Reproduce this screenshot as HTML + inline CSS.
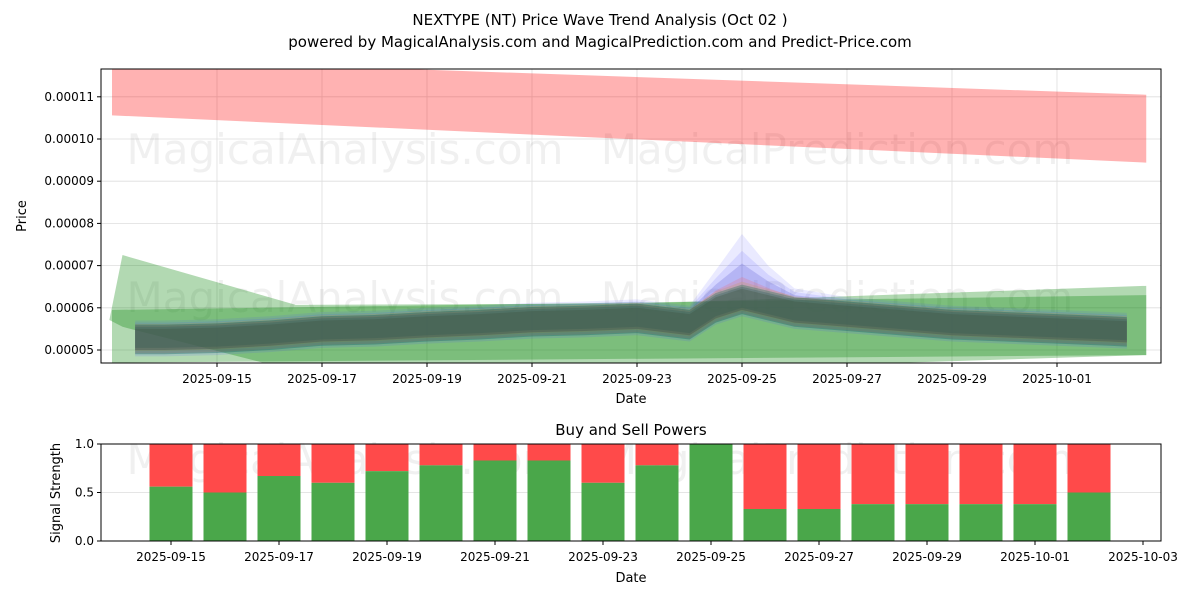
<!DOCTYPE html>
<html><head><meta charset="utf-8"><style>
body{margin:0;background:#fff;font-family:"Liberation Sans","DejaVu Sans",sans-serif;}
svg text{font-family:"DejaVu Sans","Liberation Sans",sans-serif;}
</style></head><body>
<svg id="c" width="1200" height="600" viewBox="0 0 1200 600" xmlns="http://www.w3.org/2000/svg">
<text x="600" y="25" font-size="15" text-anchor="middle">NEXTYPE (NT) Price Wave Trend Analysis (Oct 02 )</text>
<text x="600" y="47" font-size="15" text-anchor="middle">powered by MagicalAnalysis.com and MagicalPrediction.com and Predict-Price.com</text>
<defs><clipPath id="tc"><rect x="101" y="69" width="1060" height="294"/></clipPath></defs>
<g id="topg"></g>
<g id="botg"></g>
</svg>
<script>
// ---- data ----
const days = [-1.56,-1,0,1,2,3,4,5,6,7,8,9,9.5,10,10.5,11,12,13,14,15,16,17,17.33];
const center = [0.0000530,0.000053,0.0000533,0.000054,0.000055,0.0000553,0.000056,0.0000565,0.0000572,0.0000575,0.000058,0.0000565,0.0000605,0.0000625,0.000061,0.0000595,0.0000585,0.0000575,0.0000565,0.000056,0.0000555,0.000055,0.0000548];
const spike = [0,0,0,0,0,0,0,0,0,0,0,0,0.4,1,0.45,0.1,0,0,0,0,0,0,0];
const redDays = [-2.0,17.7];
const redUpper = [0.000119,0.0001105];
const redLower = [0.0001056,0.0000944];
const wideDays = [-2.05,-1.8,1.5,8,17.7];
const wideUpper = [0.0000571,0.0000725,0.0000607,0.000061,0.0000652];
const wideLower = [0.0000571,0.0000555,0.000045,0.000045,0.0000488];
const rectDays = [-2,17.7];
const rectUpper = [0.0000595,0.000063];
const rectLower = [0.000047,0.0000488];
const buyDays = [0,1,2,3,4,5,6,7,8,9,10,11,12,13,14,15,16,17];
const buyVals = [0.56,0.5,0.67,0.6,0.72,0.78,0.83,0.83,0.6,0.78,1.0,0.33,0.33,0.38,0.38,0.38,0.38,0.5];
const dateTicksTop = ["2025-09-15","2025-09-17","2025-09-19","2025-09-21","2025-09-23","2025-09-25","2025-09-27","2025-09-29","2025-10-01"];
const dateTicksBot = ["2025-09-15","2025-09-17","2025-09-19","2025-09-21","2025-09-23","2025-09-25","2025-09-27","2025-09-29","2025-10-01","2025-10-03"];
const priceTicks = [0.00005,0.00006,0.00007,0.00008,0.00009,0.00010,0.00011];
const priceLabels = ["0.00005","0.00006","0.00007","0.00008","0.00009","0.00010","0.00011"];
const sigTicks = [0,0.5,1];
const sigLabels = ["0.0","0.5","1.0"];

const NS="http://www.w3.org/2000/svg";
function mk(tag,attrs,parent){const e=document.createElementNS(NS,tag);for(const k in attrs)e.setAttribute(k,attrs[k]);parent.appendChild(e);return e;}
const X=d=>217+d*52.5;
const Y=p=>350-(p-0.00005)*4.22e6;
const XB=d=>171+d*54;
const YB=v=>541-v*97;
const topG=document.getElementById('topg'), botG=document.getElementById('botg');

dateTicksTop.forEach((s,i)=>{const x=X(i*2);
 const g=mk('line',{x1:x,x2:x,y1:69,y2:363,stroke:'#ddd','stroke-width':0.8},topG);
 
 
 mk('line',{x1:x,x2:x,y1:363,y2:367,stroke:'#000'},topG);
 const tx=mk('text',{x:x,y:383,'font-size':12,'text-anchor':'middle'},topG);tx.textContent=s;
 
 });
priceTicks.forEach((p,i)=>{const y=Y(p);
 const g=mk('line',{x1:101,x2:1161,y1:y,y2:y,stroke:'#ddd','stroke-width':0.8},topG);
 
 
 mk('line',{x1:97,x2:101,y1:y,y2:y,stroke:'#000'},topG);
 const tx=mk('text',{x:94,y:y+4,'font-size':12,'text-anchor':'end'},topG);tx.textContent=priceLabels[i];
 
 });

const wm=[["MagicalAnalysis.com",345,150],["MagicalPrediction.com",837,150],["MagicalAnalysis.com",345,298],["MagicalPrediction.com",837,298],["MagicalAnalysis.com",345,460],["MagicalPrediction.com",837,460]];
wm.forEach(w=>{const tw=mk('text',{x:w[1],y:w[2]+14,'font-size':42,'text-anchor':'middle',fill:'rgba(0,0,0,0.06)'},topG);tw.textContent=w[0];
 
 });

const plot=mk('g',{'clip-path':'url(#tc)'},topG);
function band(ds,up,lo,fill,name){
 let pts=ds.map((d,i)=>X(d)+','+Y(up[i]));
 for(let i=ds.length-1;i>=0;i--)pts.push(X(ds[i])+','+Y(lo[i]));
 const p=mk('polygon',{points:pts.join(' '),fill:fill},plot);
 
 }
band(redDays,redUpper,redLower,'rgba(255,0,0,0.3)','red-band');
band(wideDays,wideUpper,wideLower,'rgba(0,128,0,0.3)','green-wide-band');
band(rectDays,rectUpper,rectLower,'rgba(0,128,0,0.3)','green-range-band');
const waves=[[0.000004,0.000011,'rgba(80,80,255,0.12)'],[0.0000035,0.0000075,'rgba(80,80,255,0.14)'],[0.000003,0.000005,'rgba(60,60,200,0.2)'],[0.0000028,0.000002,'rgba(255,80,80,0.18)'],[0.0000032,0.0000005,'rgba(200,150,50,0.2)'],[0.000003,0,'rgba(0,110,60,0.3)'],[0.0000025,0,'rgba(40,90,90,0.3)'],[0.000002,0,'rgba(60,80,60,0.3)']];
waves.forEach((w,k)=>{
 const up=center.map((c,i)=>c+w[0]+spike[i]*w[1]);
 const lo=center.map((c,i)=>c-w[0]-(k%2?0.000001:0));
 band(days,up,lo,w[2],'wave-band');});

mk('rect',{x:101,y:69,width:1060,height:294,fill:'none',stroke:'#000','stroke-width':1},topG);
let tt=mk('text',{x:631,y:403,'font-size':13,'text-anchor':'middle'},topG);tt.textContent='Date';


tt=mk('text',{x:0,y:0,'font-size':13,'text-anchor':'middle',transform:'translate(26,216) rotate(-90)'},topG);tt.textContent='Price';



tt=mk('text',{x:631,y:435,'font-size':15,'text-anchor':'middle'},botG);tt.textContent='Buy and Sell Powers';


sigTicks.forEach((v,i)=>{const y=YB(v);
 mk('line',{x1:101,x2:1161,y1:y,y2:y,stroke:'#ddd','stroke-width':0.8},botG);
 mk('line',{x1:97,x2:101,y1:y,y2:y,stroke:'#000'},botG);
 const tx=mk('text',{x:94,y:y+4,'font-size':12,'text-anchor':'end'},botG);tx.textContent=sigLabels[i];
 
 });
dateTicksBot.forEach((s,i)=>{const x=XB(i*2);
 mk('line',{x1:x,x2:x,y1:541,y2:545,stroke:'#000'},botG);
 const tx=mk('text',{x:x,y:561,'font-size':12,'text-anchor':'middle'},botG);tx.textContent=s;
 
 });
buyDays.forEach((d,i)=>{const x=XB(d)-21.5,v=buyVals[i];
 const r=mk('rect',{x:x,y:YB(1),width:43,height:YB(v)-YB(1),fill:'#ff4a4a'},botG);
 
 
 const g=mk('rect',{x:x,y:YB(v),width:43,height:YB(0)-YB(v),fill:'#4aa74a'},botG);
 
 });
mk('rect',{x:101,y:444,width:1060,height:97,fill:'none',stroke:'#000','stroke-width':1},botG);
tt=mk('text',{x:631,y:582,'font-size':13,'text-anchor':'middle'},botG);tt.textContent='Date';


tt=mk('text',{x:0,y:0,'font-size':13,'text-anchor':'middle',transform:'translate(60,493) rotate(-90)'},botG);tt.textContent='Signal Strength';


</script>
</body></html>
